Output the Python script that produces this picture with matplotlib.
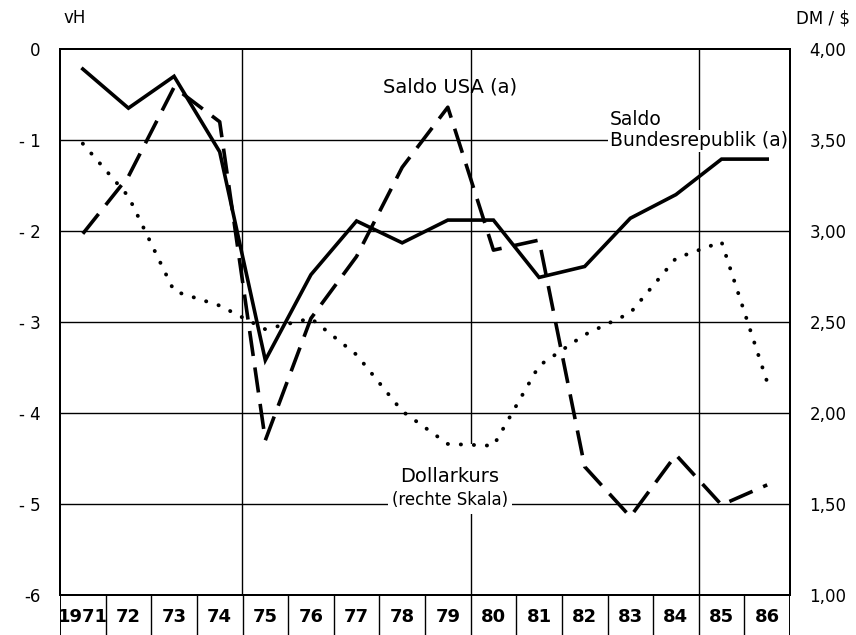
import matplotlib
matplotlib.use("Agg")
import matplotlib.pyplot as plt

years = ["1971", "72", "73", "74", "75", "76", "77", "78",
         "79", "80", "81", "82", "83", "84", "85", "86"]

# Saldo Bundesrepublik (a), vH
saldo_brd = [-0.22, -0.65, -0.30, -1.13, -3.42, -2.48, -1.89, -2.13,
             -1.88, -1.88, -2.51, -2.39, -1.86, -1.60, -1.21, -1.21]
# Saldo USA (a), vH
saldo_usa = [-2.03, -1.40, -0.42, -0.80, -4.30, -2.96, -2.28, -1.30,
             -0.64, -2.21, -2.10, -4.59, -5.14, -4.46, -5.01, -4.79]
# Dollarkurs, DM/$ (rechte Skala)
dollarkurs = [3.48, 3.19, 2.67, 2.59, 2.46, 2.52, 2.32, 2.01,
              1.83, 1.82, 2.26, 2.43, 2.55, 2.85, 2.94, 2.17]

left_ticks = [0, -1, -2, -3, -4, -5, -6]
left_labels = ["0", "- 1", "- 2", "- 3", "- 4", "- 5", "-6"]
right_ticks = [4.0, 3.5, 3.0, 2.5, 2.0, 1.5, 1.0]
right_labels = ["4,00", "3,50", "3,00", "2,50", "2,00", "1,50", "1,00"]

plt.rcParams["font.family"] = ["DejaVu Sans"]

fig = plt.figure(figsize=(8.56, 6.35), dpi=100)
ax = fig.add_axes([60 / 856, 1 - 595 / 635, 730 / 856, 546 / 635])
x = list(range(len(years)))

ax.set_xlim(-0.5, len(years) - 0.5)
ax.set_ylim(-6, 0)

# rechte Skala unten, Salden oben
ax2 = ax.twinx()
ax2.set_ylim(1.0, 4.0)
ax.set_zorder(ax2.get_zorder() + 1)
ax.patch.set_visible(False)

# Gitter (auf der rechten Achse, damit Beschriftungen es abdecken)
for yv in right_ticks[1:-1]:
    ax2.axhline(yv, color="black", lw=1.0, zorder=1)
for xv in [3.5, 8.5, 13.5]:
    ax2.axvline(xv, color="black", lw=1.0, zorder=1)

ax2.plot(x, dollarkurs, color="black", lw=2.8, linestyle=(0, (0.05, 3.3)),
         dash_capstyle="round", zorder=3)
ax.plot(x, saldo_brd, color="black", lw=2.6, solid_joinstyle="miter", zorder=3)
ax.plot(x, saldo_usa, color="black", lw=2.6, dashes=(7, 3.2), zorder=3)

ax.set_xticks([])
ax.set_yticks(left_ticks)
ax.set_yticklabels(left_labels, fontsize=12)
ax.tick_params(axis="y", length=0, pad=14)
ax2.set_yticks(right_ticks)
ax2.set_yticklabels(right_labels, fontsize=12)
ax2.tick_params(axis="y", length=0, pad=14)
for a in (ax, ax2):
    for s in a.spines.values():
        s.set_linewidth(1.4)

fig.text(75 / 856, 1 - 18 / 635, "vH", fontsize=12, ha="center", va="center")
fig.text(823 / 856, 1 - 18 / 635, "DM / $", fontsize=12, ha="center", va="center")

# Beschriftungen
ax2.text(6.58, 3.79, "Saldo USA (a)", fontsize=14, ha="left", va="center",
         zorder=4)
ax2.text(11.55, 3.61, "Saldo", fontsize=13.5, ha="left", va="center",
         zorder=2)
ax2.text(11.55, 3.495, "Bundesrepublik (a)", fontsize=13.5, ha="left",
         va="center",
         bbox=dict(facecolor="white", edgecolor="none", pad=1.0), zorder=2)
ax2.text(8.05, 1.60, "Dollarkurs", fontsize=14, ha="center", va="bottom",
         zorder=2)
ax2.text(8.05, 1.52, "(rechte Skala)", fontsize=12, ha="center", va="center",
         bbox=dict(facecolor="white", edgecolor="none", pad=3), zorder=2)
ax2.add_patch(plt.Rectangle((6.9, 1.53), 2.3, 0.3, facecolor="white",
                            edgecolor="none", zorder=1.5))

# Jahresleiste
axy = fig.add_axes([60 / 856, 0, 730 / 856, 1 - 595 / 635 + 0.0001])
axy.set_xlim(-0.5, len(years) - 0.5)
axy.set_ylim(0, 1)
axy.axis("off")
for i in range(len(years) + 1):
    axy.axvline(i - 0.5, color="black", lw=1.4 if i in (0, 16) else 1.0)
for i, lab in enumerate(years):
    axy.text(i, 0.45, lab, fontsize=13, fontweight="bold", ha="center",
             va="center")

fig.savefig("out.png", dpi=100)
